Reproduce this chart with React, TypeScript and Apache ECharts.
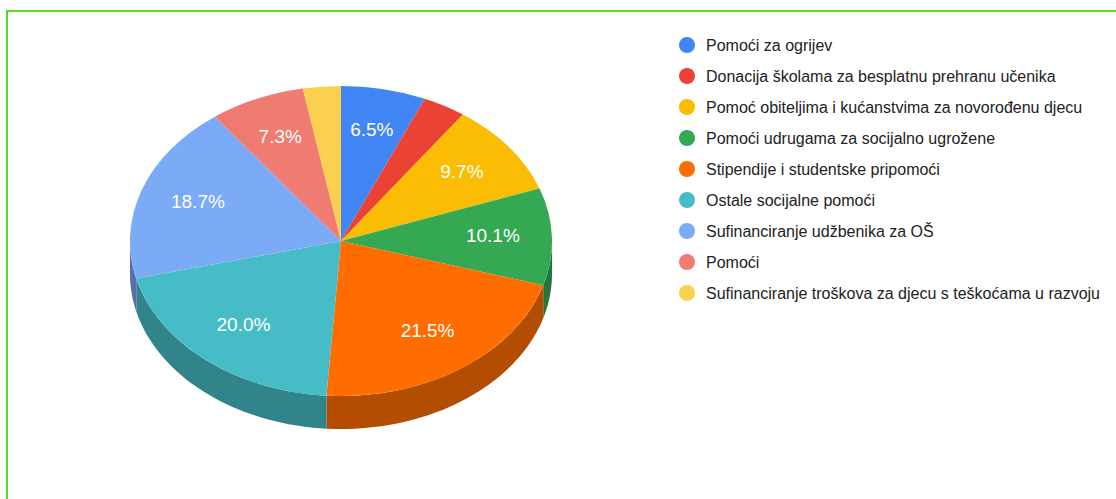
import React, { useEffect, useRef } from "react";
import * as echarts from "echarts";

const categories = [
  "Pomoći za ogrijev",
  "Donacija školama za besplatnu prehranu učenika",
  "Pomoć obiteljima i kućanstvima za novorođenu djecu",
  "Pomoći udrugama za socijalno ugrožene",
  "Stipendije i studentske pripomoći",
  "Ostale socijalne pomoći",
  "Sufinanciranje udžbenika za OŠ",
  "Pomoći",
  "Sufinanciranje troškova za djecu s teškoćama u razvoju",
];
const values = [6.5, 3.3, 9.7, 10.1, 21.5, 20.0, 18.7, 7.3, 2.9];
const colors = ["#4285f4", "#ea4335", "#fbbc04", "#34a853", "#ff6d01", "#46bdc6", "#7baaf7", "#f07b72", "#fcd04f"];
const wallColors = ["#2e5dab", "#a32f25", "#b08403", "#24763a", "#b34d01", "#31848a", "#566fa8", "#a85650", "#b09237"];

const CX = 341;
const CY = 241;
const RX = 211;
const RY = 155;
const DEPTH = 33;
const LABEL_R = 0.72;
const LABEL_LIFT = 2;
const FONT = "Arial, 'Liberation Sans', sans-serif";

const total = values.reduce((a, b) => a + b, 0);
const startFractions = values.map((_, i) => values.slice(0, i).reduce((a, b) => a + b, 0) / total);

function rim(theta: number, drop: number): number[] {
  return [CX + RX * Math.sin(theta), CY - RY * Math.cos(theta) + drop];
}

function sliceRenderer(i: number) {
  return () => {
    const a0 = startFractions[i] * 2 * Math.PI;
    const a1 = a0 + (values[i] / total) * 2 * Math.PI;
    const children: any[] = [];
    const w0 = Math.max(a0, Math.PI / 2);
    const w1 = Math.min(a1, (3 * Math.PI) / 2);
    if (w1 > w0) {
      const top: number[][] = [];
      const bottom: number[][] = [];
      const steps = 40;
      for (let s = 0; s <= steps; s++) {
        const t = w0 + ((w1 - w0) * s) / steps;
        top.push(rim(t, 0));
        bottom.unshift(rim(t, DEPTH));
      }
      children.push({
        type: "polygon",
        shape: { points: top.concat(bottom) },
        style: { fill: wallColors[i] },
      });
    }
    children.push({
      type: "group",
      x: CX,
      y: CY,
      scaleY: RY / RX,
      children: [
        {
          type: "sector",
          shape: {
            cx: 0,
            cy: 0,
            r0: 0,
            r: RX,
            startAngle: a0 - Math.PI / 2,
            endAngle: a1 - Math.PI / 2,
            clockwise: true,
          },
          style: { fill: colors[i] },
        },
      ],
    });
    if (values[i] >= 5) {
      const mid = (a0 + a1) / 2;
      children.push({
        type: "text",
        x: CX + RX * LABEL_R * Math.sin(mid),
        y: CY - LABEL_LIFT - RY * LABEL_R * Math.cos(mid),
        style: {
          text: values[i].toFixed(1) + "%",
          fill: "#ffffff",
          font: `19px ${FONT}`,
          align: "center",
          verticalAlign: "middle",
        },
      });
    }
    return { type: "group", children };
  };
}

export default function App() {
  const ref = useRef<HTMLDivElement>(null);
  useEffect(() => {
    const chart = echarts.init(ref.current!, undefined, { renderer: "svg" });
    chart.setOption({
      animation: false,
      backgroundColor: "#ffffff",
      legend: {
        orient: "vertical",
        left: 674,
        top: 32,
        itemWidth: 16,
        itemHeight: 16,
        itemGap: 15,
        icon: "circle",
        data: categories,
        selectedMode: false,
        textStyle: { fontFamily: FONT, fontSize: 16, color: "#222222", padding: [0, 0, 0, 6] },
      },
      graphic: [
        { type: "rect", shape: { x: 6, y: 10, width: 1110, height: 2 }, style: { fill: "#5bd62c" } },
        { type: "rect", shape: { x: 6, y: 10, width: 2, height: 489 }, style: { fill: "#5bd62c" } },
      ],
      series: categories.map((name, i) => ({
        type: "custom",
        name,
        coordinateSystem: "none",
        silent: true,
        itemStyle: { color: colors[i] },
        data: [[values[i]]],
        renderItem: sliceRenderer(i),
      })),
    });
    return () => chart.dispose();
  }, []);
  return <div ref={ref} style={{ position: "fixed", left: 0, top: 0, width: 1116, height: 499 }} />;
}
